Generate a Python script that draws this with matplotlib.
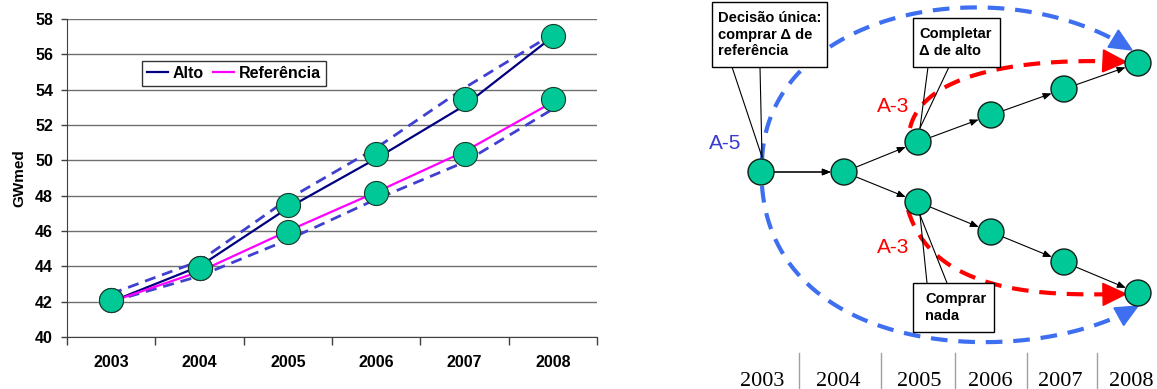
"""
    Projecao de carga (GWmed) e arvore de decisao de compra A-5 / A-3.
"""

import numpy as np
from matplotlib import pyplot as plt
from matplotlib.patches import Circle, Rectangle, Polygon

# --- dados do grafico de carga ---
years = ['2003', '2004', '2005', '2006', '2007', '2008']
alto_line = [42.0, 44.0, 47.3, 50.1, 53.1, 57.0]
ref_line = [42.0, 43.7, 46.0, 48.2, 50.5, 53.3]
alto_mark = [42.1, 43.9, 47.45, 50.35, 53.5, 57.05]
ref_mark = [42.1, 43.9, 45.95, 48.15, 50.35, 53.5]
band_upper = [42.45, 44.3, 47.8, 50.7, 54.1, 57.15]
band_lower = [42.0, 43.45, 45.5, 47.8, 49.9, 52.9]
y_ticks = [40, 42, 44, 46, 48, 50, 52, 54, 56, 58]

# --- arvore de decisao (coordenadas em pixels do painel) ---
tree_x = [761, 844, 918, 991, 1064, 1138]
tree_upper = [172, 172, 142, 115, 89, 63]
tree_lower = [172, 172, 202, 232, 262, 293]
year_label_x = [762, 838, 919, 990, 1060, 1131]
separator_x = [799, 881, 955, 1027, 1097]

GREEN = '#00c896'
DASH_BLUE = '#4040d0'
ARC_BLUE = '#3d6ff0'
SANS = ['Liberation Sans', 'DejaVu Sans']

W, H = 1157, 389
fig = plt.figure(figsize=(W / 100, H / 100), dpi=100)


def fx(px):
    return px / W


def fy(py):
    return 1 - py / H


def load_chart():
    ax = fig.add_axes([fx(67), fy(337), fx(597) - fx(67), fy(19) - fy(337)])
    x = np.arange(len(years))

    ax.plot(x, band_upper, color=DASH_BLUE, lw=2, dashes=(4, 2.5), zorder=3)
    ax.plot(x, band_lower, color=DASH_BLUE, lw=2, dashes=(4, 2.5), zorder=3)
    ax.plot(x, alto_line, color='#000080', lw=1.6, label='Alto', zorder=4)
    ax.plot(x, ref_line, color='#ff00ff', lw=1.6, label='Referência', zorder=4)
    ax.scatter(x, alto_mark, s=300, color=GREEN, edgecolor='#1a3a2a', lw=0.8, zorder=5)
    ax.scatter(x, ref_mark, s=300, color=GREEN, edgecolor='#1a3a2a', lw=0.8, zorder=5)

    ax.set_xlim(-0.5, len(years) - 0.5)
    ax.set_ylim(40, 58)
    ax.set_yticks(y_ticks)
    ax.set_xticks(x)
    ax.set_xticklabels(years)
    ax.set_xticks(np.arange(-0.5, len(years)), minor=True)
    ax.tick_params(axis='x', which='major', length=0, pad=13)
    ax.tick_params(axis='x', which='minor', length=6, width=1, color='#404040')
    ax.tick_params(axis='y', length=4, width=1, color='#404040', pad=6)
    for lab in ax.get_xticklabels() + ax.get_yticklabels():
        lab.set_fontfamily(SANS)
        lab.set_fontweight('bold')
        lab.set_fontsize(11.5)

    ax.grid(axis='y', color='#707070', lw=1)
    ax.set_axisbelow(True)
    for side in ('top', 'right'):
        ax.spines[side].set_visible(False)
    ax.spines['left'].set_color('#404040')
    ax.spines['bottom'].set_color('#404040')

    ax.set_ylabel('GWmed', family=SANS, fontweight='bold', fontsize=11, labelpad=6)

    leg = ax.legend(ncol=2, loc='upper left', bbox_to_anchor=(0.1415, 0.868),
                    borderaxespad=0, frameon=True, fancybox=False, handlelength=1.3,
                    handletextpad=0.3, columnspacing=0.6, borderpad=0.3,
                    prop={'family': SANS, 'weight': 'bold', 'size': 11.5})
    leg.get_frame().set_edgecolor('black')
    leg.get_frame().set_linewidth(1)


def bezier(p0, p1, p2, p3, n=200):
    t = np.linspace(0, 1, n)[:, None]
    p0, p1, p2, p3 = map(np.array, (p0, p1, p2, p3))
    return (1 - t) ** 3 * p0 + 3 * (1 - t) ** 2 * t * p1 + 3 * (1 - t) * t ** 2 * p2 + t ** 3 * p3


def dashed_arrow(ax, pts, color, head_len, head_w):
    tip = pts[-1]
    d = pts[-1] - pts[-6]
    d = d / np.hypot(*d)
    nrm = np.array([-d[1], d[0]])
    base = tip - d * head_len
    # trim the curve so it ends at the arrow base
    dist = np.hypot(*(pts - tip).T)
    body = pts[dist >= head_len * 0.9]
    ax.plot(body[:, 0], body[:, 1], color=color, lw=3, dashes=(4, 2.6), zorder=2,
            solid_capstyle='butt', dash_capstyle='butt')
    ax.add_patch(Polygon([tip, base + nrm * head_w / 2, base - nrm * head_w / 2],
                         closed=True, color=color, zorder=2))


def callout(ax, x0, y0, x1, y1, text, pointer, text_dx=6):
    ax.add_patch(Rectangle((x0, y0), x1 - x0, y1 - y0, facecolor='white',
                           edgecolor='black', lw=1, zorder=6))
    ax.text(x0 + text_dx, (y0 + y1) / 2, text, family=SANS, fontweight='bold',
            fontsize=10.5, va='center', ha='left', linespacing=1.2, zorder=7)
    (ax_, ay_), (bx_, by_), (tx, ty) = pointer
    ax.plot([ax_, tx], [ay_, ty], color='black', lw=0.8, zorder=5)
    ax.plot([bx_, tx], [by_, ty], color='black', lw=0.8, zorder=5)


def load_tree():
    ax = fig.add_axes([fx(690), 0, 1 - fx(690), 1])
    ax.set_xlim(690, W)
    ax.set_ylim(H, 0)
    ax.axis('off')

    r = 13
    nodes = set()
    for branch in (tree_upper, tree_lower):
        for i, (x, y) in enumerate(zip(tree_x, branch)):
            nodes.add((x, y))
            if i > 0:
                ax.annotate('', xy=(x, y), xytext=(tree_x[i - 1], branch[i - 1]),
                            arrowprops=dict(arrowstyle='-|>,head_length=0.5,head_width=0.2',
                                            color='black', lw=0.8, shrinkA=9.5, shrinkB=9.5),
                            zorder=3)
    for x, y in nodes:
        ax.add_patch(Circle((x, y), r, facecolor=GREEN, edgecolor='#102018', lw=1, zorder=4))

    # arcos A-5 (azul) e A-3 (vermelho)
    up_blue = bezier((762, 160), (768, 10), (1000, -35), (1132, 50))
    low_blue = bezier((762, 186), (775, 360), (1030, 370), (1138, 306))
    up_red = bezier((910, 128), (925, 65), (1050, 58), (1126, 62))
    low_red = bezier((908, 210), (935, 300), (1060, 295), (1126, 294))
    dashed_arrow(ax, up_blue, ARC_BLUE, 22, 20)
    dashed_arrow(ax, low_blue, ARC_BLUE, 22, 20)
    dashed_arrow(ax, up_red, '#ff0000', 23, 22)
    dashed_arrow(ax, low_red, '#ff0000', 23, 22)

    ax.text(725, 143, 'A-5', color='#3a3ad0', family=SANS, fontsize=15,
            ha='center', va='center')
    ax.text(893, 106, 'A-3', color='#ff0000', family=SANS, fontsize=15,
            ha='center', va='center')
    ax.text(893, 247, 'A-3', color='#ff0000', family=SANS, fontsize=15,
            ha='center', va='center')

    callout(ax, 712, 2, 827, 67, 'Decisão única:\ncomprar Δ de\nreferência',
            ((732, 67), (760, 67), (762, 157)))
    callout(ax, 913, 18, 1000, 67, 'Completar\nΔ de alto',
            ((928, 67), (949, 67), (920, 128)))
    callout(ax, 913, 283, 994, 332, 'Comprar\nnada',
            ((927, 283), (947, 283), (920, 215)), text_dx=12)

    for x, label in zip(year_label_x, years):
        ax.text(x, 381, label, family=['Liberation Serif', 'DejaVu Serif'],
                fontsize=16, ha='center', va='center')
    for x in separator_x:
        ax.plot([x, x], [353, H], color='#a0a0a0', lw=1)


def main():
    load_chart()
    load_tree()
    fig.savefig('out.png', dpi=100)


if __name__ == '__main__':
    main()
